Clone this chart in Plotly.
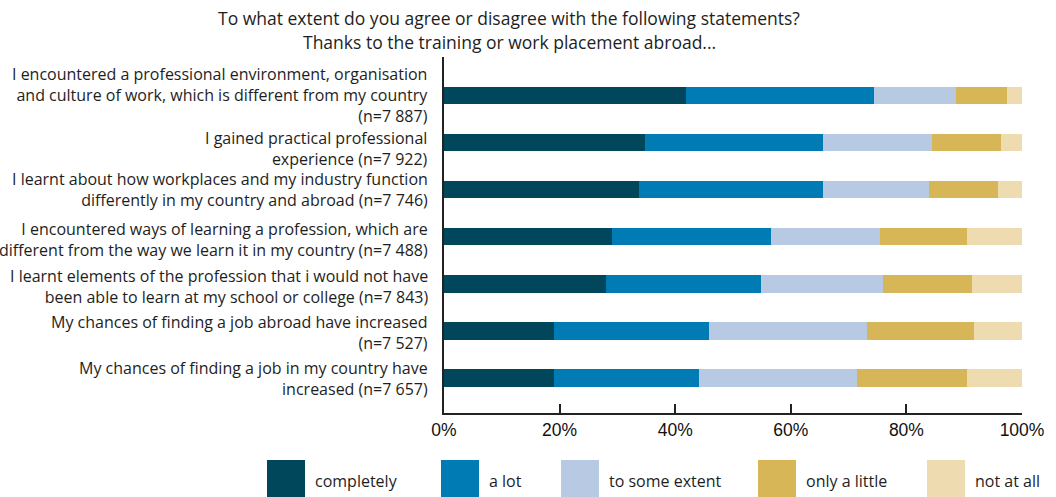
import plotly.graph_objects as go

statements = [
    "I encountered a professional environment, organisation<br>and culture of work, which is different from my country<br>(n=7 887)",
    "I gained practical professional<br>experience (n=7 922)",
    "I learnt about how workplaces and my industry function<br>differently in my country and abroad (n=7 746)",
    "I encountered ways of learning a profession, which are<br>different from the way we learn it in my country (n=7 488)",
    "I learnt elements of the profession that i would not have<br>been able to learn at my school or college (n=7 843)",
    "My chances of finding a job abroad have increased<br>(n=7 527)",
    "My chances of finding a job in my country have<br>increased (n=7 657)",
]

series_names = ["completely", "a lot", "to some extent", "only a little", "not at all"]

completely = [41.8, 34.7, 33.7, 29.0, 28.0, 19.0, 19.0]
a_lot = [32.6, 30.8, 31.8, 27.5, 26.9, 26.8, 25.2]
to_some_extent = [14.1, 18.9, 18.4, 19.0, 21.0, 27.4, 27.2]
only_a_little = [8.9, 12.0, 11.9, 15.0, 15.4, 18.5, 19.1]
not_at_all = [2.6, 3.6, 4.2, 9.5, 8.7, 8.3, 9.5]

x_ticks = [0, 20, 40, 60, 80, 100]

title_lines = ["To what extent do you agree or disagree with the following statements?",
               "Thanks to the training or work placement abroad..."]

series_values = [completely, a_lot, to_some_extent, only_a_little, not_at_all]
colors = ["#01475c", "#007bb3", "#b8cae3", "#d6b657", "#eedcb0"]

FONT = "Open Sans"
TEXT = "#1e1e1e"

fig = go.Figure()
for name, vals, col in zip(series_names, series_values, colors):
    fig.add_trace(go.Bar(
        y=statements, x=vals, name=name, orientation="h",
        marker=dict(color=col, line=dict(width=0)),
        showlegend=False, hoverinfo="skip",
    ))

FW, FH = 1056, 497
L, R, T, B = 444, 1022, 57, 413
W, H = R - L, B - T


def px(x):
    return (x - L) / W


def py(y):
    return (B - y) / H


fig.update_layout(
    width=FW, height=FH,
    margin=dict(l=L, r=FW - R, t=T, b=FH - B, pad=0, autoexpand=False),
    barmode="stack", bargap=0.624,
    plot_bgcolor="white", paper_bgcolor="white",
    font=dict(family=FONT, size=16, color=TEXT),
)
fig.update_xaxes(
    range=[0, 100], tickvals=x_ticks, ticktext=[f"{v}%" for v in x_ticks],
    ticks="inside", ticklen=9, tickwidth=1.5, tickcolor="#222",
    showline=True, linecolor="#222", linewidth=1.5,
    showgrid=False, zeroline=False, automargin=False,
    tickfont=dict(family="Liberation Sans", size=17.5, color="#111"),
    ticklabelstandoff=0,
)
fig.update_yaxes(
    categoryorder="array", categoryarray=statements,
    range=[6.75, -0.82],
    showline=True, linecolor="#222", linewidth=1.5,
    ticks="", showgrid=False, zeroline=False, automargin=False,
    showticklabels=False,
)

# category labels (right-aligned, slightly offset as in the reference)
label_yshift = [1, -6, 0, -3, -3, -2, -1]
for s, dy in zip(statements, label_yshift):
    fig.add_annotation(text=s, xref="paper", yref="y", x=0, y=s,
                       xanchor="right", yanchor="middle", align="right",
                       xshift=-14, yshift=dy, showarrow=False,
                       font=dict(family=FONT, size=16, color=TEXT))

# title lines
for txt, ty in zip(title_lines, [18, 42]):
    fig.add_annotation(text=txt, xref="paper", yref="paper",
                       x=px(509), y=py(ty), showarrow=False,
                       xanchor="center", yanchor="middle",
                       font=dict(family=FONT, size=17.5, color=TEXT))

# custom legend with large swatches
swatch_x = [267, 441, 561, 758, 927]
for name, col, sx in zip(series_names, colors, swatch_x):
    fig.add_shape(type="rect", xref="paper", yref="paper",
                  x0=px(sx), x1=px(sx + 38),
                  y0=py(460), y1=py(497),
                  fillcolor=col, line=dict(width=0))
    fig.add_annotation(text=name, xref="paper", yref="paper",
                       x=px(sx + 46), y=py(481), showarrow=False,
                       xanchor="left", yanchor="middle",
                       font=dict(family=FONT, size=16, color=TEXT))

fig.write_html("out.html",
               config={"displayModeBar": False},
               post_script="document.body.style.margin='0';document.body.style.overflow='hidden';")
